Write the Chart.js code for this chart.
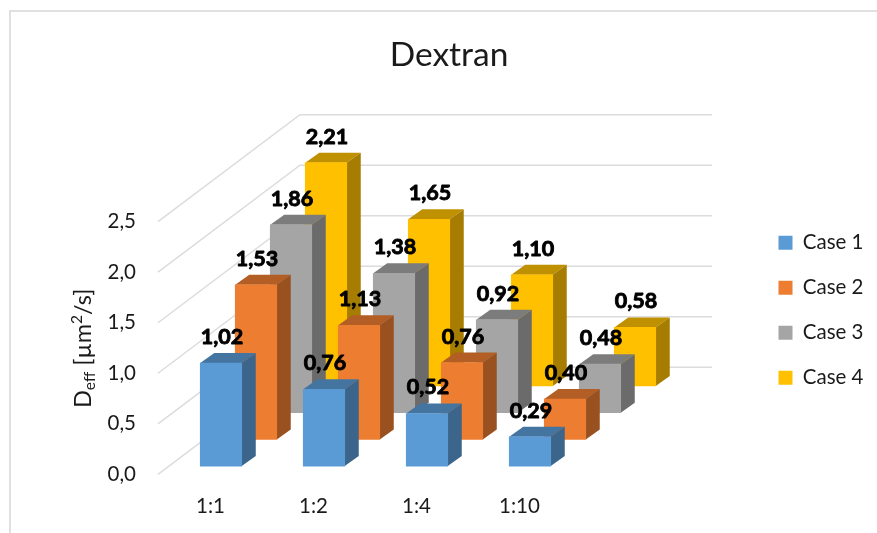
<!DOCTYPE html>
<html>
<head>
<meta charset="utf-8">
<title>Dextran</title>
<script src="https://cdn.jsdelivr.net/npm/chart.js@4"></script>
<style>
    html, body { margin: 0; padding: 0; background: #fff; }
    #wrap { position: relative; width: 877px; height: 533px; overflow: hidden; }
    #frame { position: absolute; left: 9px; top: 10px; right: -4px; bottom: -4px; border: 2px solid #e0e0e0; }
    canvas { position: absolute; left: 0; top: 0; }
</style>
</head>
<body>
<div id="wrap">
    <div id="frame"></div>
    <canvas id="chart" width="877" height="533"></canvas>
</div>
<script>
const ratios = ['1:1', '1:2', '1:4', '1:10'];
const seriesNames = ['Case 1', 'Case 2', 'Case 3', 'Case 4'];
const case1 = [1.02, 0.76, 0.52, 0.29];
const case2 = [1.53, 1.13, 0.76, 0.40];
const case3 = [1.86, 1.38, 0.92, 0.48];
const case4 = [2.21, 1.65, 1.10, 0.58];
const seriesValues = [case1, case2, case3, case4];
const frontColors = ['#5B9BD5', '#ED7D31', '#A5A5A5', '#FFC000'];
const topColors = ['#4474A0', '#B25E25', '#7C7C7C', '#BF9000'];
const sideColors = ['#3B658A', '#9A5120', '#6B6B6B', '#A67D00'];

const FONT = 'Lato, Carlito, sans-serif';
const decimal = (v, n) => Number(v).toFixed(n).replace('.', ',');

// each series sits further back in the fake depth
const seriesShift = (i) => ({ x: 10.5 + 35 * i, y: -8.2 - 26.7 * i });

const fake3d = {
    id: 'fake3d',
    afterLayout(chart) {
        // legend and title sit where the layout boxes would not put them
        const lg = chart.legend;
        lg.left = 754;
        lg.right = 877;
        lg.top = 208;
        lg.bottom = 533;
        chart.titleBlock.left = 21;
        chart.titleBlock.right = 877;
    },
    beforeDatasetsDraw(chart) {
        const ctx = chart.ctx;
        const y = chart.scales.y;
        const left = chart.chartArea.left - 1;
        ctx.save();
        ctx.strokeStyle = '#dcdcdc';
        ctx.lineWidth = 1.5;
        y.ticks.forEach((t) => {
            const py = y.getPixelForValue(t.value);
            ctx.beginPath();
            ctx.moveTo(left, py);
            ctx.lineTo(left + 142, py - 107);
            ctx.lineTo(712, py - 107);
            ctx.stroke();
        });
        ctx.restore();
    },
    beforeDatasetDraw(chart, args) {
        const ctx = chart.ctx;
        const shift = seriesShift(args.index);
        ctx.save();
        ctx.translate(shift.x, shift.y);
        const dx = 14, dy = -10;
        args.meta.data.forEach((bar) => {
            const l = bar.x - bar.width / 2;
            const r = bar.x + bar.width / 2;
            ctx.fillStyle = topColors[args.index];
            ctx.beginPath();
            ctx.moveTo(l, bar.y);
            ctx.lineTo(l + dx, bar.y + dy);
            ctx.lineTo(r + dx, bar.y + dy);
            ctx.lineTo(r, bar.y);
            ctx.closePath();
            ctx.fill();
            ctx.fillStyle = sideColors[args.index];
            ctx.beginPath();
            ctx.moveTo(r, bar.y);
            ctx.lineTo(r + dx, bar.y + dy);
            ctx.lineTo(r + dx, bar.base + dy);
            ctx.lineTo(r, bar.base);
            ctx.closePath();
            ctx.fill();
        });
    },
    afterDatasetDraw(chart) {
        chart.ctx.restore();
    },
    afterDatasetsDraw(chart) {
        const ctx = chart.ctx;
        ctx.save();
        ctx.font = 'bold 21.5px ' + FONT;
        ctx.textAlign = 'center';
        ctx.textBaseline = 'middle';
        ctx.fillStyle = '#000';
        ctx.strokeStyle = '#000';
        ctx.lineWidth = 0.9;
        ctx.lineJoin = 'round';
        seriesValues.forEach((vals, i) => {
            const meta = chart.getDatasetMeta(i);
            const shift = seriesShift(i);
            vals.forEach((v, k) => {
                const bar = meta.data[k];
                const txt = decimal(v, 2);
                ctx.strokeText(txt, bar.x + shift.x + 1, bar.y + shift.y - 26);
                ctx.fillText(txt, bar.x + shift.x + 1, bar.y + shift.y - 26);
            });
        });
        ctx.restore();
    },
    afterDraw(chart) {
        // axis title needs sub and superscript, so it is put together by hand
        const ctx = chart.ctx;
        ctx.save();
        ctx.translate(91, 408);
        ctx.rotate(-Math.PI / 2);
        ctx.fillStyle = '#1a1a1a';
        ctx.textBaseline = 'alphabetic';
        const parts = [
            ['D', 23.5, 0], ['eff', 15.5, 4], [' [µm', 23.5, 0], ['2', 15.5, -9], ['/s]', 23.5, 0]
        ];
        let x = 0;
        parts.forEach(([s, size, off]) => {
            ctx.font = size + 'px ' + FONT;
            ctx.fillText(s, x, off);
            x += ctx.measureText(s).width;
        });
        ctx.restore();
    }
};

new Chart(document.getElementById('chart'), {
    type: 'bar',
    data: {
        labels: ratios,
        datasets: seriesNames.map((name, i) => ({
            label: name,
            data: seriesValues[i],
            backgroundColor: frontColors[i],
            borderWidth: 0,
            barThickness: 41.5,
            grouped: false,
            clip: false
        }))
    },
    plugins: [fake3d],
    options: {
        responsive: false,
        animation: false,
        layout: { padding: { left: 21, right: 306, top: 0, bottom: 0 } },
        plugins: {
            tooltip: { enabled: false },
            title: {
                display: true,
                text: 'Dextran',
                color: '#1a1a1a',
                font: { family: FONT, size: 33.5, weight: 'normal', lineHeight: 1.2 },
                padding: { top: 35, bottom: 146.5 }
            },
            legend: {
                position: 'chartArea',
                align: 'start',
                onClick: null,
                labels: {
                    boxWidth: 14,
                    boxHeight: 14,
                    padding: 24.5,
                    color: '#1a1a1a',
                    font: { family: FONT, size: 20.5 }
                }
            }
        },
        scales: {
            x: {
                grid: { display: false },
                border: { display: false },
                afterFit(s) { s.height = 58.7; },
                ticks: { color: '#1a1a1a', padding: 12, font: { family: FONT, size: 20.5 }, maxRotation: 0 }
            },
            y: {
                min: 0,
                max: 2.5,
                grid: { display: false },
                border: { display: false },
                afterFit(s) { s.width = 138; },
                ticks: {
                    stepSize: 0.5,
                    color: '#1a1a1a',
                    padding: 15,
                    font: { family: FONT, size: 20.5 },
                    callback: (v) => decimal(v, 1)
                }
            }
        }
    }
});
</script>
</body>
</html>
